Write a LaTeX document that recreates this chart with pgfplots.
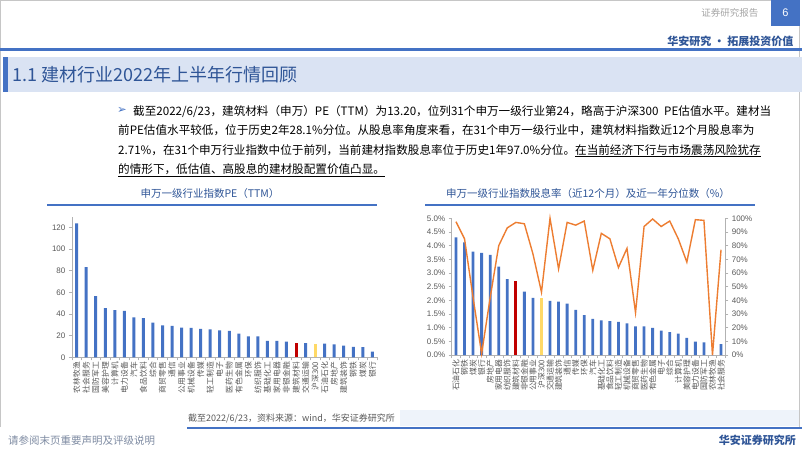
\documentclass[border=0pt]{standalone}
\usepackage{pgfplots}
\pgfplotsset{compat=1.18}
\usepackage{fontspec}
\setmainfont{Liberation Sans}
\newfontfamily\cjk{Noto Sans CJK SC}
\newfontfamily\dejavu{DejaVu Sans}
\XeTeXlinebreaklocale "zh"
\XeTeXlinebreakskip=0pt plus 2pt minus 1pt
\definecolor{barblue}{HTML}{4472C4}
\definecolor{hablue}{HTML}{2F5597}
\definecolor{bandbg}{HTML}{DAE3F3}
\definecolor{lineorange}{HTML}{ED7D31}
\definecolor{redbar}{HTML}{C00000}
\definecolor{yelbar}{HTML}{FFD966}
\definecolor{txtgray}{HTML}{595959}
\definecolor{footgray}{HTML}{7F8CA3}
\pgfplotsset{excel/.style={scale only axis, anchor=south west,
  axis line style={draw=gray!60, line width=0.6pt},
  tick style={draw=gray!60, line width=0.6pt},
  tick align=outside, major tick length=3pt,
  ticklabel style={font=\fontsize{8}{8}\selectfont, text=txtgray},
  xticklabel style={font=\cjk\fontsize{7.8}{7.8}\selectfont, rotate=90, anchor=east, inner sep=1.5pt},
  /pgf/number format/assume math mode=true, clip=false}}
\begin{document}
\begin{tikzpicture}
\useasboundingbox (0,0) rectangle (802pt,-451pt);
\fill[white] (0,0) rectangle (802pt,-451pt);
\draw[gray!45, line width=0.8pt] (0.4pt,-427pt) -- (0.4pt,-0.4pt) -- (799.5pt,-0.4pt) -- (799.5pt,-427pt);
% header
\fill[barblue] (771pt,0) rectangle (800pt,-26pt);
\node[text=white, font=\fontsize{11}{11}\selectfont] at (785.5pt,-13pt) {6};
\node[anchor=east, text=gray!70, font=\cjk\fontsize{9.5}{9.5}\selectfont] at (762pt,-13pt) {证券研究报告};
\node[anchor=east, text=hablue, font=\cjk\bfseries\fontsize{11}{11}\selectfont] at (797pt,-41pt) {华安研究 • 拓展投资价值};
\draw[barblue, line width=2.5pt] (0,-49.5pt) -- (802pt,-49.5pt);
\fill[bandbg] (3pt,-57pt) rectangle (802pt,-92pt);
\fill[barblue] (3pt,-57pt) rectangle (8pt,-92pt);
\node[anchor=west, text=hablue, font=\cjk\fontsize{18}{18}\selectfont, inner sep=0] at (12pt,-75pt) {1.1 建材行业2022年上半年行情回顾};
% paragraph
\node[text=barblue, font=\dejavu\fontsize{11.5}{11.5}\selectfont, inner sep=0] at (122pt,-110.5pt) {➢};
\begin{scope}[every node/.style={anchor=base west, inner sep=0, font=\cjk\fontsize{11.6}{11.6}\selectfont, text=black}]
\node at (133pt,-115pt) {\hbox to 638pt{截至2022/6/23，建筑材料（申万）PE（TTM）为13.20，位列31个申万一级行业第24，略高于沪深300 PE估值水平。建材当}};
\node at (118pt,-134.5pt) {\hbox to 653pt{前PE估值水平较低，位于历史2年28.1\%分位。从股息率角度来看，在31个申万一级行业中，建筑材料指数近12个月股息率为}};
\node at (118pt,-154pt) {\hbox to 654pt{2.71\%，在31个申万行业指数中位于前列，当前建材指数股息率位于历史1年97.0\%分位。\underline{在当前经济下行与市场震荡风险犹存}}};
\node at (118pt,-173.5pt) {\underline{的情形下，低估值、高股息的建材股配置价值凸显。}};
\end{scope}
% chart titles
\node[text=hablue, font=\cjk\fontsize{10.5}{10.5}\selectfont] at (210pt,-194pt) {申万一级行业指数PE（TTM）};
\draw[barblue, line width=1.4pt] (47pt,-205pt) -- (377pt,-205pt);
\node[text=hablue, font=\cjk\fontsize{10.5}{10.5}\selectfont] at (588pt,-194pt) {申万一级行业指数股息率（近12个月）及近一年分位数（\%）};
\draw[barblue, line width=1.4pt] (425pt,-205pt) -- (755pt,-205pt);
% bottom
\fill[bandbg!45] (400pt,-410pt) rectangle (799pt,-426pt);
\node[anchor=west, text=txtgray, font=\cjk\fontsize{9}{9}\selectfont, inner sep=0] at (188pt,-418pt) {截至2022/6/23，资料来源：wind，华安证券研究所};
\draw[barblue, line width=2.5pt] (187pt,-428pt) -- (802pt,-428pt);
\node[anchor=west, text=footgray, font=\cjk\fontsize{10.5}{10.5}\selectfont, inner sep=0] at (8pt,-441pt) {请参阅末页重要声明及评级说明};
\node[anchor=east, text=hablue, font=\cjk\bfseries\fontsize{11}{11}\selectfont, inner sep=0] at (796pt,-440pt) {华安证券研究所};
% left chart
\begin{axis}[excel, at={(71.9pt,-357.3pt)}, width=305.2pt, height=140.7pt,
  xmin=-0.5, xmax=31.5, ymin=0, ymax=130,
  axis x line*=bottom, axis y line*=left,
  ytick={0,20,...,120},
  xtick={-0.5,0.5,...,31.5}, x tick label as interval,
  xticklabels={农林牧渔,社会服务,国防军工,美容护理,计算机,电力设备,汽车,食品饮料,综合,商贸零售,通信,公用事业,机械设备,传媒,轻工制造,电子,医药生物,有色金属,环保,纺织服饰,基础化工,家用电器,非银金融,建筑材料,交通运输,沪深300,石油石化,房地产,建筑装饰,钢铁,煤炭,银行}]
\addplot[ybar, bar width=3pt, bar shift=0pt, fill=barblue, draw=none] coordinates {
(0,123.8) (1,83.3) (2,56.5) (3,45.4) (4,43.5) (5,42.9) (6,37.0) (7,36.1) (8,32.1) (9,29.6)
(10,29.0) (11,27.5) (12,27.2) (13,26.2) (14,25.9) (15,25.0) (16,24.4) (17,21.9) (18,19.4) (19,19.4)
(20,15.1) (21,15.1) (22,14.5) (24,13.0) (26,12.6) (27,12.0) (28,10.8) (29,9.6) (30,9.3) (31,5.2)};
\addplot[ybar, bar width=3pt, bar shift=0pt, fill=redbar, draw=none] coordinates {(23,13.2)};
\addplot[ybar, bar width=3pt, bar shift=0pt, fill=yelbar, draw=none] coordinates {(25,12.7)};
\end{axis}
% right chart bars
\begin{axis}[excel, at={(451.7pt,-355pt)}, width=273.6pt, height=136.7pt,
  xmin=-0.5, xmax=31.5, ymin=0, ymax=5,
  axis x line*=bottom, axis y line*=left,
  ytick={0,0.5,...,5},
  yticklabel={\pgfmathprintnumber[fixed,fixed zerofill,precision=1]{\tick}\%},
  xtick={-0.5,0.5,...,31.5}, x tick label as interval,
  xticklabels={石油石化,钢铁,煤炭,银行,房地产,家用电器,纺织服饰,建筑材料,非银金融,公用事业,沪深300,交通运输,建筑装饰,通信,传媒,环保,汽车,基础化工,食品饮料,轻工制造,机械设备,商贸零售,医药生物,有色金属,电子,综合,计算机,美容护理,电力设备,国防军工,农林牧渔,社会服务}]
\addplot[ybar, bar width=2.8pt, bar shift=0pt, fill=barblue, draw=none] coordinates {
(0,4.30) (1,4.12) (2,3.78) (3,3.74) (4,3.66) (5,3.23) (6,2.78) (8,2.32) (9,2.09)
(11,1.98) (12,1.95) (13,1.88) (14,1.65) (15,1.46) (16,1.32) (17,1.27) (18,1.24) (19,1.21)
(20,1.16) (21,1.05) (22,1.05) (23,0.99) (24,0.89) (25,0.84) (26,0.78) (27,0.63) (28,0.49) (29,0.46) (30,0.0) (31,0.40)};
\addplot[ybar, bar width=2.8pt, bar shift=0pt, fill=redbar, draw=none] coordinates {(7,2.71)};
\addplot[ybar, bar width=2.8pt, bar shift=0pt, fill=yelbar, draw=none] coordinates {(10,2.09)};
\end{axis}
% right chart line
\begin{axis}[excel, at={(451.7pt,-355pt)}, width=273.6pt, height=136.7pt,
  xmin=-0.5, xmax=31.5, ymin=0, ymax=100,
  axis y line*=right, axis x line=none, xtick=\empty,
  ytick={0,10,...,100},
  yticklabel={\pgfmathprintnumber{\tick}\%}]
\addplot[lineorange, line width=1.4pt, mark=none] coordinates {
(0,97.5) (1,85) (2,42) (3,1) (4,42) (5,80) (6,93) (7,97) (8,96) (9,74)
(10,46) (11,100) (12,63) (13,97) (14,95) (15,98) (16,62) (17,89) (18,85) (19,64)
(20,78) (21,31) (22,94) (23,99.5) (24,94) (25,98) (26,85) (27,68) (28,99) (29,98.5)
(30,0) (31,77)};
\end{axis}
\end{tikzpicture}
\end{document}
